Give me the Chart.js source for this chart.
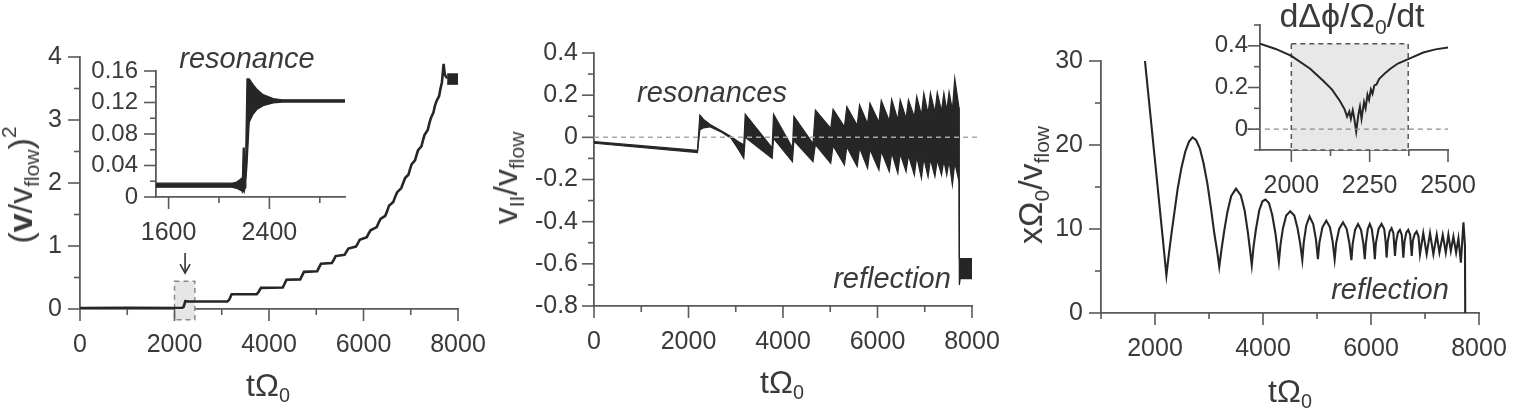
<!DOCTYPE html>
<html>
<head>
<meta charset="utf-8">
<script src="https://cdn.jsdelivr.net/npm/chart.js@4.4.1/dist/chart.umd.min.js"></script>
<style>
  html, body { margin:0; padding:0; background:#fff; }
  body { width:1523px; height:411px; overflow:hidden; position:relative;
         font-family:"Liberation Sans", Arial, Helvetica, sans-serif; color:#3a3a3a; }
  canvas { position:absolute; }
  .lbl { position:absolute; white-space:nowrap; line-height:1; transform:translate(-50%,-50%); z-index:5; }
  .rot { transform:translate(-50%,-50%) rotate(-90deg); }
  .it { font-style:italic; }
  .lbl sub { font-size:0.62em; vertical-align:-0.32em; line-height:0; }
  .lbl sup { font-size:0.62em; vertical-align:0.75em; line-height:0; }
</style>
</head>
<body>
<div class="lbl rot" style="left:20px;top:185px;font-size:34px;">(<b>v</b>/v<sub>flow</sub>)<sup>2</sup></div>
<div class="lbl" style="left:268px;top:385px;font-size:32px;">tΩ<sub>0</sub></div>
<div class="lbl it" style="left:247px;top:58px;font-size:29px;">resonance</div>

<div class="lbl rot" style="left:505px;top:178px;font-size:34px;">v<sub>II</sub>/v<sub>flow</sub></div>
<div class="lbl" style="left:782px;top:382px;font-size:32px;">tΩ<sub>0</sub></div>
<div class="lbl it" style="left:712px;top:92px;font-size:29px;">resonances</div>
<div class="lbl it" style="left:892px;top:278px;font-size:29px;">reflection</div>

<div class="lbl rot" style="left:1030px;top:185px;font-size:34px;">xΩ<sub>0</sub>/v<sub>flow</sub></div>
<div class="lbl" style="left:1290px;top:391px;font-size:32px;">tΩ<sub>0</sub></div>
<div class="lbl it" style="left:1390px;top:289px;font-size:29px;">reflection</div>
<div class="lbl" style="left:1352px;top:15px;font-size:34px;">dΔϕ/Ω<sub>0</sub>/dt</div>

<script>
// ================= DATA =================
// Panel 1: (v/v_flow)^2 versus tΩ0
const energyT = [0, 1000, 2150, 2190, 2230, 2300, 3120, 3160, 3210, 3740, 3780, 3830, 4290, 4330, 4370,
  4660, 4700, 4740, 5020, 5060, 5100, 5330, 5370, 5410, 5600, 5640, 5680, 5840, 5880, 5920,
  6070, 6110, 6150, 6280, 6320, 6360, 6460, 6500, 6540, 6630, 6670, 6710, 6800, 6840, 6880,
  6950, 6985, 7020, 7090, 7120, 7155, 7225, 7260, 7290, 7360, 7395, 7425, 7480, 7510, 7540,
  7600, 7630, 7660, 7696, 7720, 7770];
const energyV = [0.015, 0.018, 0.015, 0.03, 0.125, 0.12, 0.12, 0.15, 0.235, 0.235, 0.27, 0.335, 0.34, 0.40, 0.465,
  0.47, 0.53, 0.59, 0.60, 0.66, 0.72, 0.73, 0.78, 0.84, 0.86, 0.91, 0.96, 0.99, 1.04, 1.10,
  1.14, 1.20, 1.25, 1.30, 1.37, 1.43, 1.48, 1.55, 1.64, 1.70, 1.78, 1.85, 1.92, 2.00, 2.08,
  2.13, 2.22, 2.30, 2.36, 2.44, 2.52, 2.58, 2.68, 2.76, 2.84, 2.95, 3.03, 3.12, 3.22, 3.29,
  3.38, 3.50, 3.60, 3.89, 3.72, 3.66];
const energyBlockT = [7770, 8000];
const energyBlockTop = [3.73, 3.73];
const energyBlockBottom = [3.57, 3.57];
const energyXTicks = [0, 1000, 2000, 3000, 4000, 5000, 6000, 7000, 8000];
const energyXLabels = [0, 2000, 4000, 6000, 8000];
const energyYTicks = [0, 0.5, 1, 1.5, 2, 2.5, 3, 3.5, 4];
const energyYLabels = [0, 1, 2, 3, 4];
const zoomBox1 = { t0: 2000, t1: 2430, v0: -0.17, v1: 0.44 };
const arrow1 = { t: 2224, vFrom: 0.89, vTo: 0.57 };

// Inset of panel 1: resonance (band = fast oscillation envelope)
const resT     = [1500, 2100, 2140, 2165, 2180, 2186, 2192, 2200, 2208, 2213, 2222, 2240, 2270, 2300, 2350, 2430, 2500, 3000];
const resUpper = [0.0175, 0.0175, 0.019, 0.022, 0.024, 0.024, 0.062, 0.062, 0.030, 0.065, 0.150, 0.150, 0.143, 0.137, 0.130, 0.125, 0.1235, 0.1235];
const resLower = [0.0125, 0.0125, 0.011, 0.009, 0.008, 0.006, 0.010, 0.006, 0.012, 0.020, 0.040, 0.095, 0.105, 0.111, 0.116, 0.1195, 0.1205, 0.1205];
const resXTicks = [1600, 2000, 2400, 2800];
const resXLabels = [1600, 2400];
const resYTicks = [0, 0.02, 0.04, 0.06, 0.08, 0.1, 0.12, 0.14, 0.16];
const resYLabels = [0, 0.04, 0.08, 0.12, 0.16];

// Panel 2: v_parallel / v_flow (envelope of the oscillating signal)
const velT = [0, 2190, 2240, 2320, 2450, 2700, 2900, 3050, 3170,
  3200, 3770, 3800, 4200, 4230, 4635, 4685,
  5010, 5060, 5300, 5350, 5570, 5620, 5790, 5840, 6030, 6080, 6250, 6300,
  6430, 6480, 6605, 6655, 6780, 6830, 6930, 6980, 7070, 7120, 7215, 7265,
  7355, 7405, 7465, 7515, 7585, 7635, 7725, 7732, 7750, 8000];
const velUpper = [-0.020, -0.062, 0.106, 0.085, 0.062, 0.030, 0.004, -0.020, -0.035,
  0.110, -0.050, 0.110, -0.050, 0.100, -0.030, 0.130,
  0.043, 0.133, 0.050, 0.146, 0.057, 0.154, 0.064, 0.162, 0.071, 0.175, 0.078, 0.181,
  0.083, 0.178, 0.090, 0.178, 0.097, 0.194, 0.105, 0.210, 0.112, 0.210, 0.118, 0.213,
  0.124, 0.210, 0.128, 0.215, 0.130, 0.280, 0.140, -0.575, -0.575, -0.575];
const velLower = [-0.028, -0.072, 0.035, 0.045, 0.050, 0.024, -0.004, -0.055, -0.100,
  0.000, -0.100, -0.005, -0.116, -0.015, -0.115, -0.035,
  -0.123, -0.040, -0.131, -0.045, -0.139, -0.050, -0.147, -0.058, -0.155, -0.066, -0.163, -0.072,
  -0.171, -0.078, -0.163, -0.085, -0.179, -0.092, -0.195, -0.098, -0.187, -0.103, -0.187, -0.108,
  -0.179, -0.110, -0.179, -0.112, -0.226, -0.120, -0.210, -0.700, -0.670, -0.670];
const velZeroT = [0, 8110];
const velZeroV = [0, 0];
const velXTicks = [0, 1000, 2000, 3000, 4000, 5000, 6000, 7000, 8000];
const velXLabels = [0, 2000, 4000, 6000, 8000];
const velYTicks = [-0.8, -0.7, -0.6, -0.5, -0.4, -0.3, -0.2, -0.1, 0, 0.1, 0.2, 0.3, 0.4];
const velYLabels = [-0.8, -0.6, -0.4, -0.2, 0, 0.2, 0.4];

// Panel 3: xΩ0 / v_flow
const posT = [1814, 2010, 2150, 2211,
  2260, 2310, 2360, 2420, 2490, 2560, 2630, 2694, 2760, 2830, 2900, 2970, 3040, 3100, 3150, 3190,
  3230, 3280, 3340, 3410, 3500, 3590, 3660, 3720, 3760, 3792,
  3825, 3870, 3930, 3990, 4046, 4110, 4170, 4230, 4265, 4294,
  4325, 4370, 4430, 4505, 4580, 4640, 4690, 4728,
  4755, 4800, 4862, 4930, 4980, 5017,
  5045, 5100, 5172, 5240, 5290, 5327,
  5355, 5410, 5482, 5550, 5600, 5637,
  5660, 5705, 5760, 5815, 5860, 5885,
  5905, 5940, 5978, 6015, 6050, 6071,
  6090, 6140, 6195, 6245, 6272, 6289,
  6310, 6345, 6381, 6415, 6444,
  6465, 6500, 6535, 6570, 6599,
  6620, 6655, 6690, 6725, 6754,
  6775, 6810, 6845, 6880, 6907,
  6968, 7031, 7093, 7155, 7217, 7267, 7329, 7385, 7433, 7478, 7526, 7576, 7619, 7664, 7712, 7740, 7745];
const posV = [30, 17.5, 8.5, 4.5,
  7.2, 9.7, 12.0, 14.8, 17.3, 19.2, 20.4, 20.9, 20.6, 19.6, 17.8, 15.4, 12.3, 9.4, 7.4, 5.5,
  7.5, 9.7, 12.0, 13.9, 14.8, 14.0, 12.2, 9.6, 7.5, 5.7,
  7.9, 10.0, 12.2, 13.3, 13.5, 13.1, 11.7, 9.5, 7.7, 6.1,
  8.2, 10.1, 11.6, 12.1, 11.6, 10.1, 8.2, 6.3,
  8.4, 10.4, 11.5, 10.6, 8.8, 6.4,
  8.4, 10.2, 11.0, 10.2, 8.5, 6.4,
  8.3, 10.0, 10.8, 10.0, 8.3, 6.3,
  8.2, 9.9, 10.6, 9.9, 8.2, 6.4,
  8.3, 10.0, 10.6, 10.0, 8.3, 6.4,
  8.3, 10.0, 10.6, 10.0, 8.4, 6.6,
  8.5, 9.7, 10.1, 9.5, 6.8,
  8.5, 9.6, 9.9, 9.3, 6.6,
  8.5, 9.6, 9.9, 9.3, 6.8,
  8.6, 9.4, 9.7, 9.1, 7.0,
  9.5, 7.0, 9.5, 7.0, 9.3, 7.2, 9.3, 7.2, 9.3, 7.4, 9.1, 7.2, 8.9, 6.0, 10.8, 8.0, 0];
const posXTicks = [1000, 2000, 3000, 4000, 5000, 6000, 7000, 8000];
const posXLabels = [2000, 4000, 6000, 8000];
const posYTicks = [0, 5, 10, 15, 20, 25, 30];
const posYLabels = [0, 10, 20, 30];

// Inset of panel 3: dΔϕ/Ω0/dt
const phaseT = [1900, 1950, 2000, 2060, 2100, 2130, 2155, 2170, 2178, 2185, 2190, 2196, 2200, 2207, 2214,
  2219, 2224, 2232, 2237, 2243, 2248, 2254, 2259, 2265, 2272, 2280, 2300, 2315, 2340, 2373, 2421, 2460, 2500];
const phaseV = [0.41, 0.385, 0.352, 0.29, 0.235, 0.19, 0.135, 0.095, 0.06, 0.085, 0.05, 0.09, 0.06, -0.012, 0.07,
  0.108, 0.05, 0.13, 0.10, 0.165, 0.14, 0.19, 0.17, 0.21, 0.215, 0.24, 0.27, 0.289, 0.315, 0.336, 0.368, 0.383, 0.392];
const phaseZeroT = [1858, 2500];
const phaseZeroV = [0, 0];
const phaseXTicks = [2000, 2125, 2250, 2375, 2500];
const phaseXLabels = [2000, 2250, 2500];
const phaseYTicks = [-0.1, 0, 0.1, 0.2, 0.3, 0.4, 0.5];
const phaseYLabels = [0, 0.2, 0.4];
const zoomBox3 = { t0: 2000, t1: 2373, v0: -0.1, v1: 0.41 };

// ================= STYLE / HELPERS =================
const FONT = '"Liberation Sans", Arial, Helvetica, sans-serif';
const TXT = '#3a3a3a';
const AXIS = '#5a5a5a';
const INK = '#262626';
const TICK_FONT = 25;

const pts = (xs, ys) => xs.map((x, i) => ({ x, y: ys[i] }));

const tickMarks = {
  id: 'tickMarks',
  afterDraw(chart, args, o) {
    const ctx = chart.ctx;
    ctx.save();
    ctx.strokeStyle = AXIS;
    ctx.lineWidth = 1.6;
    const xs = chart.scales.x, ys = chart.scales.y;
    xs.ticks.forEach(t => {
      const p = xs.getPixelForValue(t.value);
      const len = o.xMajor.includes(t.value) ? o.major : o.minor;
      ctx.beginPath(); ctx.moveTo(p, xs.top); ctx.lineTo(p, xs.top + len); ctx.stroke();
    });
    ys.ticks.forEach(t => {
      const p = ys.getPixelForValue(t.value);
      const len = o.yMajor.includes(t.value) ? o.major : o.minor;
      ctx.beginPath(); ctx.moveTo(ys.right, p); ctx.lineTo(ys.right - len, p); ctx.stroke();
    });
    ctx.restore();
  }
};

const boxes = {
  id: 'boxes',
  beforeDatasetsDraw(chart, args, o) {
    if (!o.box) return;
    const ctx = chart.ctx, xs = chart.scales.x, ys = chart.scales.y;
    const x0 = xs.getPixelForValue(o.box.t0), x1 = xs.getPixelForValue(o.box.t1);
    const y0 = ys.getPixelForValue(o.box.v1), y1 = ys.getPixelForValue(o.box.v0);
    ctx.save();
    ctx.fillStyle = o.fill;
    ctx.fillRect(x0, y0, x1 - x0, y1 - y0);
    ctx.setLineDash(o.dash);
    ctx.strokeStyle = o.stroke;
    ctx.lineWidth = 1.5;
    ctx.strokeRect(x0, y0, x1 - x0, y1 - y0);
    ctx.restore();
  },
  afterDatasetsDraw(chart, args, o) {
    if (!o.arrow) return;
    const ctx = chart.ctx, xs = chart.scales.x, ys = chart.scales.y;
    const x = xs.getPixelForValue(o.arrow.t);
    const ya = ys.getPixelForValue(o.arrow.vFrom), yb = ys.getPixelForValue(o.arrow.vTo);
    ctx.save();
    ctx.strokeStyle = '#333'; ctx.lineWidth = 1.6;
    ctx.beginPath(); ctx.moveTo(x, ya); ctx.lineTo(x, yb); ctx.stroke();
    ctx.beginPath(); ctx.moveTo(x - 5, yb - 9); ctx.lineTo(x, yb); ctx.lineTo(x + 5, yb - 9); ctx.stroke();
    ctx.restore();
  }
};

function axis(min, max, ticks, labels, side, size, pad, fontSize) {
  return {
    type: 'linear', min, max,
    afterBuildTicks: s => { s.ticks = ticks.map(v => ({ value: v })); },
    afterFit: s => { if (side === 'x') s.height = size; else s.width = size; },
    grid: { display: false, drawTicks: false },
    border: { display: true, color: AXIS, width: 1.8 },
    ticks: {
      autoSkip: false, maxRotation: 0, minRotation: 0, padding: pad, color: TXT,
      font: { family: FONT, size: fontSize },
      callback: v => labels.includes(v) ? String(v) : ''
    }
  };
}

function makeChart(area, geo, datasets, scales, pluginOpts) {
  const c = document.createElement('canvas');
  const left = area.L - geo.yW, top = area.T - geo.padTop;
  const w = area.R - area.L + geo.yW + geo.padRight;
  const h = area.B - area.T + geo.padTop + geo.xH;
  c.width = w; c.height = h;
  c.style.left = left + 'px'; c.style.top = top + 'px';
  c.style.width = w + 'px'; c.style.height = h + 'px';
  document.body.appendChild(c);
  return new Chart(c, {
    type: 'line',
    data: { datasets },
    options: {
      responsive: false, animation: false, events: [],
      layout: { padding: { top: geo.padTop, right: geo.padRight, left: 0, bottom: 0 } },
      elements: { point: { radius: 0 }, line: { tension: 0 } },
      plugins: { legend: { display: false }, tooltip: { enabled: false }, ...pluginOpts },
      scales
    },
    plugins: [tickMarks, boxes]
  });
}

const lineDs = (data, width, extra) => Object.assign({ data, borderColor: INK, borderWidth: width, fill: false, pointRadius: 0 }, extra || {});
const GEO_MAIN = { yW: 90, xH: 64, padTop: 45, padRight: 65 };
const GEO_INSET = { yW: 72, xH: 56, padTop: 45, padRight: 65 };

// ================= PANEL 1 =================
makeChart({ L: 80, R: 458, T: 57, B: 309 }, { yW: 80, xH: 64, padTop: 45, padRight: 65 },
  [
    lineDs(pts(energyT, energyV), 2.6),
    lineDs(pts(energyBlockT, energyBlockTop), 1.5),
    lineDs(pts(energyBlockT, energyBlockBottom), 1.5, { fill: 1, backgroundColor: INK })
  ],
  {
    x: axis(0, 8000, energyXTicks, energyXLabels, 'x', 64, 21, TICK_FONT),
    y: axis(0, 4, energyYTicks, energyYLabels, 'y', 80, 18, TICK_FONT)
  },
  {
    tickMarks: { xMajor: energyXLabels, yMajor: energyYLabels, major: 12, minor: 6 },
    boxes: { box: zoomBox1, fill: '#e6e6e6', stroke: '#8a8a8a', dash: [5, 4], arrow: arrow1 }
  });

// ================= PANEL 2 =================
makeChart({ L: 594, R: 972, T: 53, B: 306 }, GEO_MAIN,
  [
    lineDs(pts(velZeroT, velZeroV), 1.5, { borderColor: '#a8a8a8', borderDash: [5, 4], clip: false }),
    lineDs(pts(velT, velUpper), 1.2),
    lineDs(pts(velT, velLower), 1.2, { fill: 1, backgroundColor: INK })
  ],
  {
    x: axis(0, 8000, velXTicks, velXLabels, 'x', 64, 21, TICK_FONT),
    y: axis(-0.8, 0.4, velYTicks, velYLabels, 'y', 90, 16, TICK_FONT)
  },
  {
    tickMarks: { xMajor: velXLabels, yMajor: velYLabels, major: 12, minor: 6 },
    boxes: {}
  });

// ================= PANEL 3 =================
makeChart({ L: 1101, R: 1479, T: 61, B: 313 }, GEO_MAIN,
  [
    lineDs(pts(posT, posV), 2.1)
  ],
  {
    x: axis(1000, 8000, posXTicks, posXLabels, 'x', 64, 21, TICK_FONT),
    y: axis(0, 30, posYTicks, posYLabels, 'y', 90, 18, TICK_FONT)
  },
  {
    tickMarks: { xMajor: posXLabels, yMajor: posYLabels, major: 12, minor: 6 },
    boxes: {}
  });

// ================= INSET 1 =================
makeChart({ L: 156, R: 345, T: 71, B: 197 }, GEO_INSET,
  [
    lineDs(pts(resT, resUpper), 1.2),
    lineDs(pts(resT, resLower), 1.2, { fill: 0, backgroundColor: INK })
  ],
  {
    x: axis(1500, 3000, resXTicks, resXLabels, 'x', 56, 21, TICK_FONT),
    y: axis(0, 0.16, resYTicks, resYLabels, 'y', 72, 18, 24)
  },
  {
    tickMarks: { xMajor: resXLabels, yMajor: resYLabels, major: 12, minor: 6 },
    boxes: {}
  });

// ================= INSET 3 =================
makeChart({ L: 1260, R: 1448, T: 25, B: 150 }, GEO_INSET,
  [
    lineDs(pts(phaseZeroT, phaseZeroV), 1.4, { borderColor: '#8a8a8a', borderDash: [5, 4], clip: false }),
    lineDs(pts(phaseT, phaseV), 2)
  ],
  {
    x: axis(1900, 2500, phaseXTicks, phaseXLabels, 'x', 56, 21, TICK_FONT),
    y: axis(-0.1, 0.5, phaseYTicks, phaseYLabels, 'y', 72, 12, 24)
  },
  {
    tickMarks: { xMajor: phaseXLabels, yMajor: phaseYLabels, major: 12, minor: 6 },
    boxes: { box: zoomBox3, fill: '#e8e8e8', stroke: '#555', dash: [5, 4] }
  });
</script>
</body>
</html>
